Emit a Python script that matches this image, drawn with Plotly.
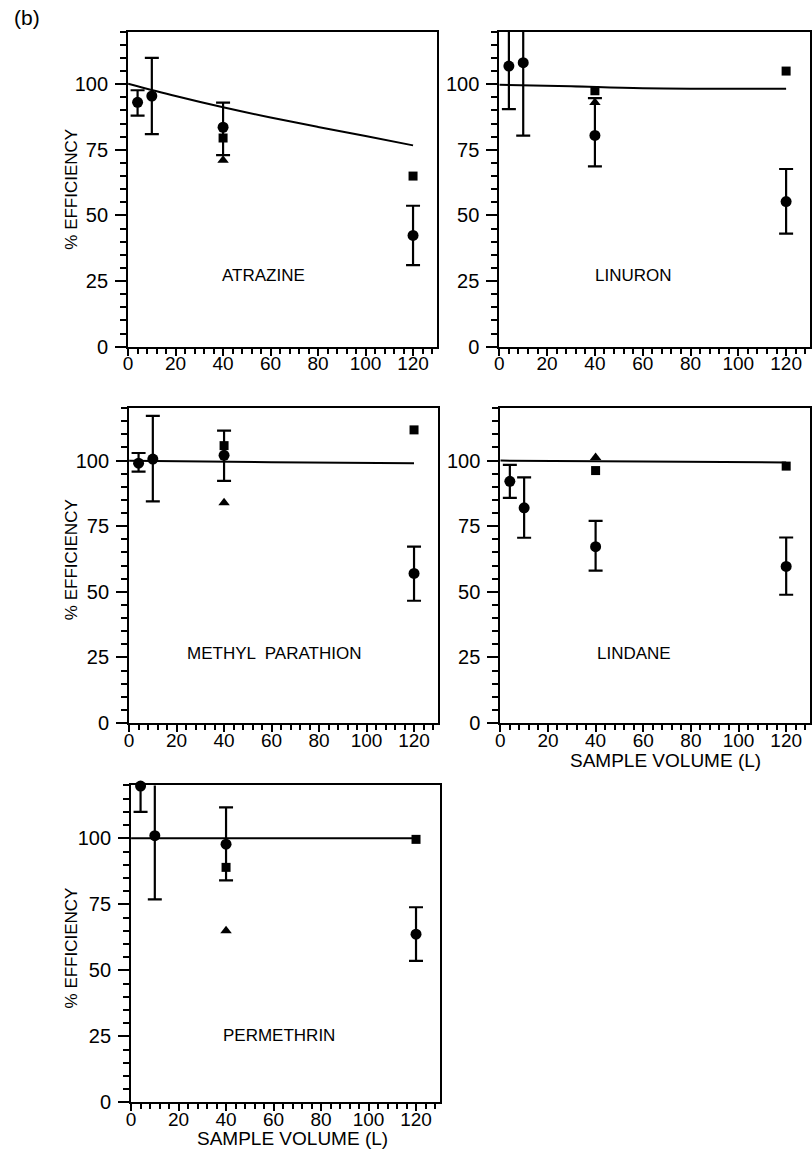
import plotly.graph_objects as go

W, H = 812, 1161

# ---------------- data ----------------
vol = [4, 10, 40, 120]

# ATRAZINE
atr_circle_y = [93.1, 95.5, 83.6, 42.4]
atr_circle_top = [97.7, 110.0, 93.0, 53.7]
atr_circle_bot = [88.0, 81.0, 73.0, 31.1]
atr_square_x = [40, 120]
atr_square_y = [79.5, 65.0]
atr_tri_x = [40]
atr_tri_y = [71.0]
atr_fit_x = [0, 20, 40, 60, 80, 100, 120]
atr_fit_y = [100.2, 95.5, 91.2, 87.3, 83.7, 80.3, 76.7]

# LINURON
lin_circle_y = [106.9, 108.2, 80.5, 55.3]
lin_circle_top = [123.4, 136.0, 94.7, 67.7]
lin_circle_bot = [90.5, 80.4, 68.7, 43.1]
lin_square_x = [40, 120]
lin_square_y = [97.5, 105.0]
lin_tri_x = [40]
lin_tri_y = [93.0]
lin_fit_x = [0, 30, 60, 120]
lin_fit_y = [99.8, 99.2, 98.5, 98.3]

# METHYL PARATHION
mp_circle_y = [99.0, 100.6, 102.0, 57.0]
mp_circle_top = [102.9, 117.0, 111.4, 67.2]
mp_circle_bot = [95.8, 84.5, 92.3, 46.6]
mp_square_x = [40, 120]
mp_square_y = [105.7, 111.7]
mp_tri_x = [40]
mp_tri_y = [83.9]
mp_fit_x = [0, 60, 120]
mp_fit_y = [99.9, 99.4, 99.0]

# LINDANE
ld_circle_y = [92.1, 82.0, 67.2, 59.7]
ld_circle_top = [98.4, 93.6, 77.0, 70.7]
ld_circle_bot = [85.8, 70.6, 58.1, 48.9]
ld_square_x = [40, 120]
ld_square_y = [96.2, 97.9]
ld_tri_x = [40]
ld_tri_y = [101.2]
ld_fit_x = [0, 60, 120]
ld_fit_y = [100.0, 99.7, 99.3]

# PERMETHRIN
pm_circle_y = [119.8, 101.0, 97.8, 63.7]
pm_circle_top = [130.0, 125.0, 111.7, 73.9]
pm_circle_bot = [110.0, 76.9, 84.1, 53.6]
pm_square_x = [40, 120]
pm_square_y = [89.0, 99.6]
pm_tri_x = [40]
pm_tri_y = [65.0]
pm_fit_x = [0, 120]
pm_fit_y = [100.0, 100.0]

panel_names = ["ATRAZINE", "LINURON", "METHYL  PARATHION", "LINDANE", "PERMETHRIN"]
y_ticks = [0, 25, 50, 75, 100]
x_ticks = [0, 20, 40, 60, 80, 100, 120]

panels = [
    dict(cy=atr_circle_y, ct=atr_circle_top, cb=atr_circle_bot, sx=atr_square_x, sy=atr_square_y,
         tx=atr_tri_x, ty=atr_tri_y, fx=atr_fit_x, fy=atr_fit_y, label_xy=(57, 27)),
    dict(cy=lin_circle_y, ct=lin_circle_top, cb=lin_circle_bot, sx=lin_square_x, sy=lin_square_y,
         tx=lin_tri_x, ty=lin_tri_y, fx=lin_fit_x, fy=lin_fit_y, label_xy=(56, 27)),
    dict(cy=mp_circle_y, ct=mp_circle_top, cb=mp_circle_bot, sx=mp_square_x, sy=mp_square_y,
         tx=mp_tri_x, ty=mp_tri_y, fx=mp_fit_x, fy=mp_fit_y, label_xy=(61, 26.4)),
    dict(cy=ld_circle_y, ct=ld_circle_top, cb=ld_circle_bot, sx=ld_square_x, sy=ld_square_y,
         tx=ld_tri_x, ty=ld_tri_y, fx=ld_fit_x, fy=ld_fit_y, label_xy=(56, 26.4)),
    dict(cy=pm_circle_y, ct=pm_circle_top, cb=pm_circle_bot, sx=pm_square_x, sy=pm_square_y,
         tx=pm_tri_x, ty=pm_tri_y, fx=pm_fit_x, fy=pm_fit_y, label_xy=(62.5, 25.5)),
]

# layout geometry (pixels in the reference page)
x_doms_px = [(124, 435), (498, 811), (125, 436), (499, 811), (127, 438)]
y_doms_px = [(32, 350), (32, 350), (412, 730), (412, 730), (793, 1113)]


def px(X):
    return X / W


def py(Y):
    return 1 - Y / H


FONT = "Liberation Sans, Arial, Helvetica, sans-serif"

fig = go.Figure()
layout = dict(
    width=W, height=H,
    margin=dict(l=0, r=0, t=0, b=0),
    paper_bgcolor="white", plot_bgcolor="white",
    showlegend=False, hovermode=False,
    font=dict(family=FONT, color="black"),
    annotations=[],
)

for i, p in enumerate(panels):
    n = "" if i == 0 else str(i + 1)
    xa, ya = "x" + n, "y" + n
    # fitted line
    fig.add_trace(go.Scatter(x=p["fx"], y=p["fy"], mode="lines", line=dict(color="black", width=2, shape="spline"),
                             xaxis=xa, yaxis=ya, hoverinfo="skip"))
    # error bars (clipped at the frame)
    up = [t - c for t, c in zip(p["ct"], p["cy"])]
    dn = [c - b for c, b in zip(p["cy"], p["cb"])]
    fig.add_trace(go.Scatter(x=vol, y=p["cy"], mode="markers",
                             marker=dict(size=2, color="rgba(0,0,0,0)"),
                             error_y=dict(type="data", symmetric=False, array=up, arrayminus=dn,
                                          color="black", thickness=2.2, width=7),
                             xaxis=xa, yaxis=ya, hoverinfo="skip"))
    # squares
    fig.add_trace(go.Scatter(x=p["sx"], y=p["sy"], mode="markers",
                             marker=dict(symbol="square", size=9, color="black"),
                             xaxis=xa, yaxis=ya, cliponaxis=False))
    # triangles
    fig.add_trace(go.Scatter(x=p["tx"], y=p["ty"], mode="markers",
                             marker=dict(symbol="triangle-up", size=10, color="black"),
                             xaxis=xa, yaxis=ya, cliponaxis=False))
    # circles
    fig.add_trace(go.Scatter(x=vol, y=p["cy"], mode="markers",
                             marker=dict(symbol="circle", size=11, color="black"),
                             xaxis=xa, yaxis=ya, cliponaxis=False))

    x0, x1 = x_doms_px[i]
    yt, yb = y_doms_px[i]
    layout["xaxis" + n] = dict(
        domain=[px(x0), min(px(x1), 1.0)], anchor=ya, range=[0, 130],
        tickvals=x_ticks, ticks="outside", ticklen=7, tickwidth=2, tickcolor="black",
        minor=dict(dtick=4, tick0=0, ticks="outside", ticklen=5, tickwidth=2, tickcolor="black"),
        showline=True, linecolor="black", linewidth=2, mirror=True,
        showgrid=False, zeroline=False, ticklabelstandoff=-8,
        tickfont=dict(size=19, family=FONT, color="black"),
    )
    layout["yaxis" + n] = dict(
        domain=[py(yb), py(yt)], anchor=xa, range=[0, 120],
        tickvals=y_ticks, ticks="outside", ticklen=11, tickwidth=2, tickcolor="black",
        minor=dict(dtick=5, tick0=0, ticks="outside", ticklen=6, tickwidth=2, tickcolor="black"),
        showline=True, linecolor="black", linewidth=2, mirror=True,
        showgrid=False, zeroline=False, ticklabelstandoff=3,
        tickfont=dict(size=20, family=FONT, color="black"),
    )
    lx, ly = p["label_xy"]
    layout["annotations"].append(dict(
        x=lx, y=ly, xref=xa, yref=ya, text=panel_names[i], showarrow=False,
        font=dict(size=17, family=FONT, color="black"), xanchor="center", yanchor="middle"))

# y-axis titles for the left column
for yc in [191, 565, 957]:
    layout["annotations"].append(dict(
        x=px(67), y=py(yc), xref="paper", yref="paper", text="% EFFICIENCY", textangle=-90,
        showarrow=False, font=dict(size=17, family=FONT, color="black"),
        xanchor="center", yanchor="middle"))

# x-axis titles
for xc, yc in [(665, 768), (290, 1149)]:
    layout["annotations"].append(dict(
        x=px(xc), y=py(yc), xref="paper", yref="paper", text="SAMPLE VOLUME (L)",
        showarrow=False, font=dict(size=19, family=FONT, color="black"),
        xanchor="center", yanchor="middle"))

layout["annotations"].append(dict(
    x=px(22), y=py(18), xref="paper", yref="paper", text="(b)", showarrow=False,
    font=dict(size=21, family=FONT, color="black"), xanchor="center", yanchor="middle"))

fig.update_layout(**layout)
# remove the browser's default 8px body margin so the figure fills the window exactly
fig.write_html("out.html", config={"displayModeBar": False},
               post_script=["document.body.style.margin='0';"])
